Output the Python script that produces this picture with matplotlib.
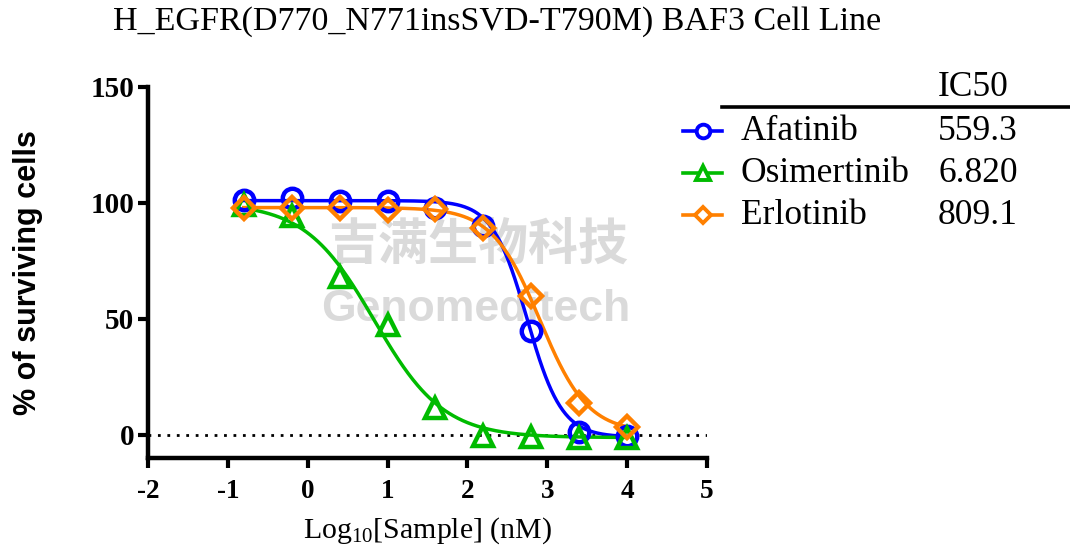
import numpy as np
import matplotlib
matplotlib.use("Agg")
import matplotlib.pyplot as plt
from matplotlib.lines import Line2D

matplotlib.rcParams["mathtext.fontset"] = "custom"
matplotlib.rcParams["mathtext.rm"] = "Liberation Serif"
matplotlib.rcParams["mathtext.it"] = "Liberation Serif:italic"
matplotlib.rcParams["axes.unicode_minus"] = False

# ---- data ----
log_conc = [-0.8, -0.2, 0.4, 1.0, 1.6, 2.2, 2.8, 3.4, 4.0]
drugs = ["Afatinib", "Osimertinib", "Erlotinib"]
ic50_labels = ["559.3", "6.820", "809.1"]
ic50_values = [559.3, 6.820, 809.1]
afatinib = [101.3, 102.0, 101.0, 100.8, 98.0, 90.0, 44.8, 1.3, -0.4]
osimertinib = [99.0, 94.4, 68.0, 47.4, 11.6, -0.5, -1.0, -1.5, -1.2]
erlotinib = [97.8, 98.0, 98.0, 97.0, 97.5, 89.0, 60.0, 13.8, 3.4]
# fitted 4PL parameters (top, bottom, hill slope)
fit_top = [101.0, 100.0, 98.0]
fit_bottom = [-1.0, -1.2, 1.0]
fit_hill = [2.0, 1.0, 1.45]

colors = ["#0000ff", "#00bb00", "#ff8000"]
markers = ["o", "^", "D"]
msizes = [14, 14, 11]
series = [afatinib, osimertinib, erlotinib]

SERIF = ["Liberation Serif", "DejaVu Serif"]
SANS = ["Liberation Sans", "DejaVu Sans"]

fig = plt.figure(figsize=(10.7, 5.52), dpi=100)
ax = fig.add_axes([0.1383, 0.1703, 0.6607 - 0.1383, 0.8424 - 0.1703])

# watermark
ax.text(2.13, 81.5, "吉满生物科技", fontsize=36, fontweight="bold", color="#dadada",
        family=["Noto Sans CJK SC", "DejaVu Sans"], ha="center", va="center", zorder=0)
ax.text(2.1, 54, "Genomeditech", fontsize=32, fontweight="bold", color="#dadada",
        family=SANS, ha="center", va="center", zorder=0)

xx = np.linspace(min(log_conc), max(log_conc), 400)
order = [2, 0, 1]
for i in order:
    c = colors[i]
    lic = np.log10(ic50_values[i])
    yy = fit_bottom[i] + (fit_top[i] - fit_bottom[i]) / (1 + 10 ** ((xx - lic) * fit_hill[i]))
    ax.plot(xx, yy, color=c, lw=2.5, zorder=2 + i)
    ax.plot(log_conc, series[i], linestyle="none", marker=markers[i], ms=msizes[i],
            mfc="none", mec=c, mew=3.2, zorder=5 + i, clip_on=False)

ax.axhline(0, color="black", ls=(0, (1, 2.4)), lw=2.0, zorder=1)

ax.set_xlim(-2, 5)
ax.set_ylim(-10, 150)
ax.set_xticks(range(-2, 6))
ax.set_yticks([0, 50, 100, 150])
for s in ["top", "right"]:
    ax.spines[s].set_visible(False)
for s in ["left", "bottom"]:
    ax.spines[s].set_linewidth(3.2)
ax.tick_params(axis="both", direction="out", length=7, width=3.0)
ax.tick_params(axis="x", pad=8)
ax.tick_params(axis="y", pad=3)
for lab in ax.get_xticklabels():
    lab.set_family(SERIF)
    lab.set_fontweight("bold")
    lab.set_fontsize(19.5)
for lab in ax.get_yticklabels():
    lab.set_family(SERIF)
    lab.set_fontweight("bold")
    lab.set_fontsize(21)

ax.set_ylabel("% of surviving cells", family=SANS, fontweight="bold", fontsize=22, labelpad=34)
ax.set_xlabel(r"Log$_{10}$[Sample] (nM)", family=SERIF, fontsize=21.5, labelpad=8)

fig.text(113 / 1070, 1 - 22 / 552, "H_EGFR(D770_N771insSVD-T790M) BAF3 Cell Line",
         family=SERIF, fontsize=24.5, ha="left", va="center")

# legend table
fig.text(938 / 1070, 1 - 88 / 552, "IC50", family=SERIF, fontsize=25.5, ha="left", va="center")
fig.add_artist(Line2D([722 / 1070, 1.0], [1 - 107 / 552] * 2, color="black", lw=2.6,
                      transform=fig.transFigure))
rows_y = [131, 173, 215]
for i in range(3):
    yf = 1 - rows_y[i] / 552
    fig.add_artist(Line2D([683 / 1070, 722 / 1070], [yf, yf], color=colors[i], lw=2.6,
                          transform=fig.transFigure))
    fig.add_artist(Line2D([702.5 / 1070], [yf], color=colors[i], marker=markers[i],
                          ms=msizes[i] * 0.7, mfc="white", mew=2.8, transform=fig.transFigure))
    fig.text(741 / 1070, yf, drugs[i], family=SERIF, fontsize=25.5, ha="left", va="center")
    fig.text(938 / 1070, yf, ic50_labels[i], family=SERIF, fontsize=25.5, ha="left", va="center")

fig.savefig("out.png", dpi=100)
